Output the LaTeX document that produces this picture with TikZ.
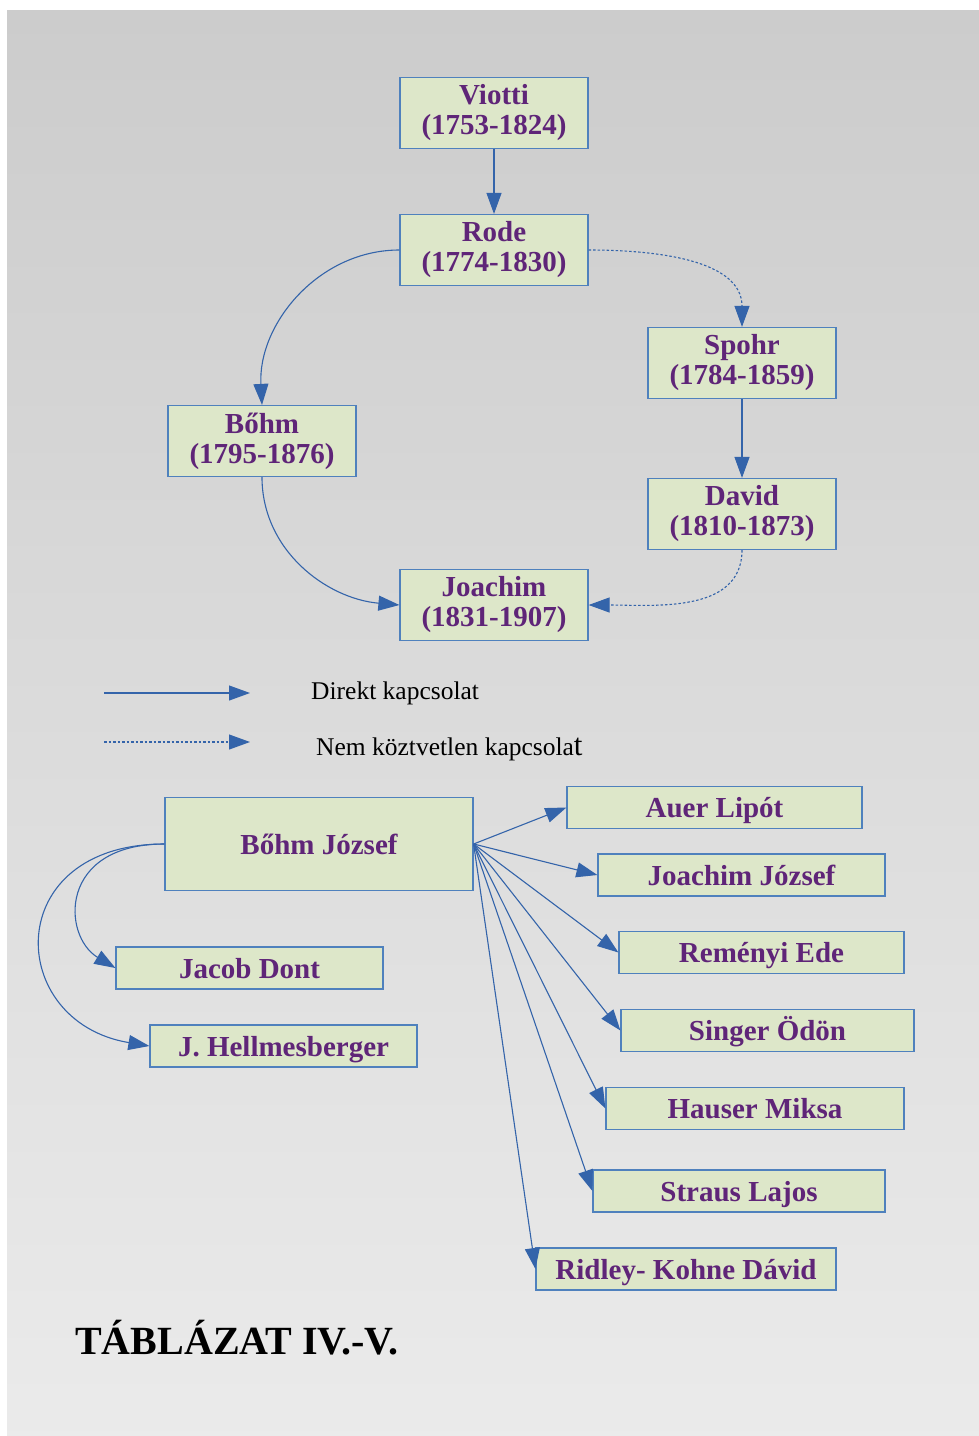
\documentclass[tikz,border=0pt]{standalone}
\usepackage{fontspec}
\setmainfont{Liberation Serif}
\usetikzlibrary{arrows.meta}

\definecolor{boxfill}{RGB}{221,231,201}
\definecolor{boxline}{RGB}{79,129,189}
\definecolor{linkblue}{RGB}{52,100,170}
\definecolor{namepurple}{RGB}{95,37,120}

\begin{document}
\begin{tikzpicture}[x=1pt,y=1pt,
  tanar/.style={draw=boxline,line width=1.2pt,fill=boxfill,text=namepurple,
    font=\fontsize{29}{30}\selectfont\bfseries,align=center,inner sep=0pt},
  tanarpar/.style={tanar,minimum width=188pt,minimum height=71pt},
  tanitvany/.style={tanar,minimum height=42pt,text height=25pt,text depth=5pt},
  kapocs/.style={linkblue,line width=1.1pt,-{Triangle[length=21pt,width=15pt]}},
  laza/.style={kapocs,dash pattern=on 2.5pt off 2pt},
  magyarazat/.style={font=\fontsize{25.5}{28}\selectfont,anchor=base west,inner sep=0pt}]

\useasboundingbox (0,0) rectangle (979,-1436);
\shade [top color=black!20,bottom color=black!8] (7,-10) rectangle (979,-1435);

% violinist lineage
\node [tanarpar] (viotti) at (494,-113) {Viotti\\(1753-1824)};
\node [tanarpar] (rode) at (494,-250) {Rode\\(1774-1830)};
\node [tanarpar] (spohr) at (742,-363) {Spohr\\(1784-1859)};
\node [tanarpar] (bohm) at (262,-441) {Bőhm\\(1795-1876)};
\node [tanarpar] (david) at (742,-514) {David\\(1810-1873)};
\node [tanarpar] (joachim) at (494,-605) {Joachim\\(1831-1907)};

\draw [kapocs] (viotti) -- (rode);
\draw [kapocs] (rode.west) to[out=180,in=93] (bohm.north);
\draw [laza] (rode.east) to[out=0,in=90] (spohr.north);
\draw [kapocs] (spohr) -- (david);
\draw [kapocs] (bohm.south) to[out=-90,in=175] (joachim.west);
\draw [laza] (david.south) to[out=-90,in=0] (joachim.east);

% legend
\coordinate (jel1a) at (104,-693);
\coordinate (jel1b) at (250,-693);
\coordinate (jel2a) at (104,-742);
\coordinate (jel2b) at (250,-742);
\draw [kapocs] (jel1a) -- (jel1b);
\draw [laza] (jel2a) -- (jel2b);
\node [magyarazat] (direkt) at (311,-699) {Direkt kapcsolat};
\node [magyarazat] (nemkozv) at (316,-755) {Nem köztvetlen kapcsola{\fontsize{31}{31}\selectfont t}};

% pupils of Bohm Jozsef
\node [tanitvany,minimum width=308pt,minimum height=93pt] (bj) at (319,-844) {Bőhm József};
\node [tanitvany,minimum width=267pt] (dont) at (249.5,-968) {Jacob Dont};
\node [tanitvany,minimum width=267pt] (hellm) at (283.5,-1046) {J. Hellmesberger};
\node [tanitvany,minimum width=295pt] (auer) at (714.5,-807.5) {Auer Lipót};
\node [tanitvany,minimum width=287pt] (joj) at (741.5,-875) {Joachim József};
\node [tanitvany,minimum width=285pt] (remenyi) at (761.5,-952.5) {Reményi Ede};
\node [tanitvany,minimum width=293pt] (singer) at (767.5,-1030.5) {Singer Ödön};
\node [tanitvany,minimum width=298pt] (hauser) at (755,-1108.5) {Hauser Miksa};
\node [tanitvany,minimum width=292pt] (straus) at (739,-1191) {Straus Lajos};
\node [tanitvany,minimum width=300pt] (ridley) at (686,-1269) {Ridley- Kohne Dávid};

\draw [kapocs] (bj.west) .. controls (58,-844) and (62,-936) .. (dont.west);
\draw [kapocs] (bj.west) .. controls (0,-844) and (5,-1022) .. (hellm.west);
\foreach \t in {auer,joj,remenyi,singer,hauser,straus,ridley}
  \draw [kapocs] (bj.east) -- (\t.west);

\node [font=\fontsize{40}{44}\selectfont\bfseries] (cim) at (237,-1338) {TÁBLÁZAT IV.-V.};

\end{tikzpicture}
\end{document}
